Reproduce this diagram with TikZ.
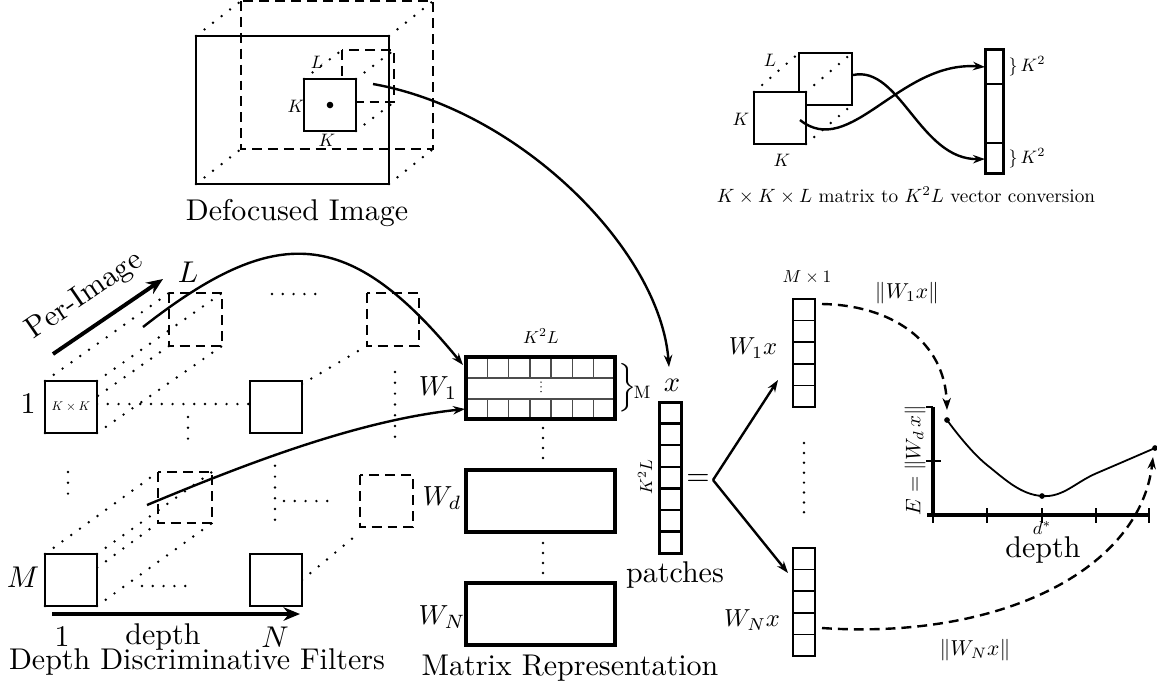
\RequirePackage{fix-cm}
\documentclass[tikz,border=0pt]{standalone}
\usetikzlibrary{arrows.meta}
\newcommand{\fsz}[1]{\fontsize{#1}{#1}\selectfont}
\begin{document}
\begin{tikzpicture}[x=0.33333pt,y=-0.33333pt,line width=0.8pt,
  dotl/.style={line width=0.9pt,line cap=round,dash pattern=on 0pt off 3.6pt},
  dsh/.style={dash pattern=on 3.3pt off 2pt},
  thk/.style={line width=1.3pt},
  mbox/.style={line width=1.1pt},
  cellln/.style={line width=0.45pt,black!70},
  vcell/.style={line width=0.5pt},
  arr/.style={-{Stealth[length=4pt,width=2.8pt]}},
  bigarr/.style={-{Stealth[length=5.5pt,width=4.5pt]}},
  tA/.style={inner sep=0pt,font=\fsz{10}},
  sc/.style={inner sep=0pt,font=\fsz{10},scale=#1}]
\useasboundingbox (0,0) rectangle (1157,689);

% ---------------- Defocused image ----------------
\draw[dsh] (241,1) rectangle (433,149);
\draw[dotl] (196,36) -- (241,1) (389,36) -- (433,1) (196,184) -- (241,149) (389,184) -- (433,149);
\draw (196,36) rectangle (389,184);
\draw[dsh] (342,50) rectangle (394,102);
\draw[dotl] (304,79) -- (342,50) (356,79) -- (394,50) (356,131) -- (394,102);
\draw[fill=white] (304,79) rectangle (356,131);
\fill (330,105) circle (1.1pt);
\node[sc=0.6] (dL) at (317,62) {$L$};
\node[sc=0.6] (dK1) at (296,106) {$K$};
\node[sc=0.6] (dK2) at (327,140) {$K$};
\node[tA] (dcap) at (297,213) {Defocused Image};
\coordinate (imgout) at (373,84);

% ---------------- Conversion inset ----------------
\draw (799,53) rectangle (852,105);
\draw[dotl] (754,92) -- (799,53) (806,92) -- (852,53) (806,144) -- (852,105);
\draw[fill=white] (754,92) rectangle (806,144);
\draw (985,84) -- (1003,84) (985,143) -- (1003,143);
\draw[line width=1pt] (985,49) rectangle (1003,173);
\node[sc=0.6] (cL) at (770,60) {$L$};
\node[sc=0.6] (cK1) at (741,119) {$K$};
\node[sc=0.6] (cK2) at (782,160) {$K$};
\node[sc=0.6,anchor=west] (cb1) at (1008,66) {$\}\,K^2$};
\node[sc=0.6,anchor=west] (cb2) at (1008,158) {$\}\,K^2$};
\node[sc=0.64] (ccap) at (906,195) {$K\times K\times L$ matrix to $K^2L$ vector conversion};
\coordinate (cs1) at (853,75);
\coordinate (ce1) at (985,159);
\coordinate (cs2) at (800,120);
\coordinate (ce2) at (985,67);
\draw[arr] (cs1) .. controls (900,65) and (920,160) .. (ce1);
\draw[arr] (cs2) .. controls (850,160) and (900,60) .. (ce2);

% ---------------- Depth discriminative filters ----------------
\draw[dsh] (169,293) rectangle (222,346);
\draw[dsh] (367,293) rectangle (419,346);
\draw[dsh] (158,472) rectangle (212,523);
\draw[dsh] (360,475) rectangle (413,527);
\draw[dotl] (45,381) -- (169,293);
\draw[dotl] (97,381) -- (222,293);
\draw[dotl] (45,433) -- (169,346);
\draw[dotl] (97,433) -- (222,346);
\draw[dotl] (302,384) -- (365,347);
\draw[dotl] (45,554) -- (158,472);
\draw[dotl] (97,554) -- (212,472);
\draw[dotl] (45,606) -- (158,523);
\draw[dotl] (97,606) -- (212,523);
\draw[dotl] (302,580) -- (359,533);
\draw[dotl] (97,404) -- (250,404);
\draw[dotl] (272,294) -- (323,294);
\draw[dotl] (142,586) -- (195,586);
\draw[dotl] (284,501) -- (337,501);
\draw[dotl] (68,472) -- (68,502);
\draw[dotl] (188,417) -- (188,447);
\draw[dotl] (275,455) -- (275,530);
\draw[dotl] (395,372) -- (395,447);
\draw[fill=white] (45,381) rectangle (97,433);
\draw[fill=white] (250,381) rectangle (302,433);
\draw[fill=white] (45,554) rectangle (97,606);
\draw[fill=white] (250,554) rectangle (302,606);
\node[sc=0.42] (kk) at (71,407) {$K\times K$};
\node[tA] (r1) at (28,404) {$1$};
\node[tA] (rM) at (23,577) {$M$};
\node[tA] (lL) at (188,272) {$L$};
\coordinate (pa1) at (53,354);
\coordinate (pa2) at (163,279);
\draw[thk,bigarr] (pa1) -- (pa2);
\node[tA,rotate=34.5] (pimg) at (85,296) {Per-Image};
\coordinate (da1) at (52,614);
\coordinate (da2) at (300,614);
\draw[thk,bigarr] (da1) -- (da2);
\node[tA] (c1) at (62,637) {$1$};
\node[tA] (cdep) at (163,637) {depth};
\node[tA] (cN) at (275,637) {$N$};
\node[tA] (fcap) at (197,662) {Depth Discriminative Filters};
\coordinate (f1out) at (143,327);
\coordinate (fMout) at (147,505);

% ---------------- Matrix representation ----------------
\foreach \i in {1,...,6} {
  \draw[cellln] ({466+\i*21.29},357) -- ({466+\i*21.29},378) ({466+\i*21.29},399) -- ({466+\i*21.29},419);
}
\draw[cellln] (466,378) -- (615,378) (466,399) -- (615,399);
\draw[line width=0.5pt,line cap=round,dash pattern=on 0pt off 1.6pt] (541,382) -- (541,396);
\draw[mbox] (466,357) rectangle (615,419);
\draw[mbox] (466,470) rectangle (615,532);
\draw[mbox] (466,583) rectangle (615,645);
\draw[dotl,dash pattern=on 0pt off 3.33pt] (543,428) -- (543,459);
\draw[dotl,dash pattern=on 0pt off 3.33pt] (543,543) -- (543,574);
\node[sc=0.58] (mK) at (541,336) {$K^2L$};
\node[sc=0.92] (mW1) at (438,388) {$W_1$};
\node[sc=0.92] (mWd) at (442,498) {$W_d$};
\node[sc=0.92] (mWN) at (442,617) {$W_N$};
\node[sc=0.9] (mbr) at (627,388) {$\Big\}$};
\node[sc=0.6] (mM) at (642,392) {M};
\node[tA] (mcap) at (570,668) {Matrix Representation};
\coordinate (w1in1) at (463,365);
\coordinate (w1in2) at (465,409);
\draw[arr] (f1out) .. controls (276,223) and (349,226) .. (w1in1);
\draw[arr] (fMout) .. controls (250,462) and (360,420) .. (w1in2);

% ---------------- patches vector ----------------
\foreach \i in {1,...,6} { \draw (659,{402+\i*21.6}) -- (681,{402+\i*21.6}); }
\draw[line width=1pt] (659,402) rectangle (681,553);
\node[sc=0.95] (xl) at (672,385) {$x$};
\node[sc=0.58,rotate=90] (xK) at (645,477) {$K^2L$};
\node[tA] (eq) at (698,480) {$=$};
\node[tA] (pcap) at (675,575) {patches};
\coordinate (xin) at (669,367);
\draw[arr] (imgout) .. controls (520,110) and (660,250) .. (xin);
\coordinate (apex) at (713,480);
\coordinate (v1in) at (778,380);
\coordinate (vNin) at (788,573);
\draw[arr] (apex) -- (v1in);
\draw[arr] (apex) -- (vNin);

% ---------------- W x vectors ----------------
\foreach \i in {1,...,4} { \draw[vcell] (793,{299+\i*21.6}) -- (815,{299+\i*21.6}); }
\draw[vcell] (793,299) rectangle (815,407);
\foreach \i in {1,...,4} { \draw[vcell] (793,{548+\i*21.6}) -- (815,{548+\i*21.6}); }
\draw[vcell] (793,548) rectangle (815,656);
\draw[dotl,dash pattern=on 0pt off 3.3pt] (804,443) -- (804,513);
\node[sc=0.58] (vM) at (807,277) {$M\times 1$};
\node[sc=0.82] (vW1) at (753,348) {$W_1x$};
\node[sc=0.82] (vWN) at (752,620) {$W_Nx$};
\node[sc=0.72] (n1) at (907,293) {$\|W_1x\|$};
\node[sc=0.72] (nN) at (975,650) {$\|W_Nx\|$};

% ---------------- graph ----------------
\draw[thk] (933,407) -- (933,515);
\draw[thk] (927,515) -- (1149,515);
\draw[line width=0.6pt] (926,407) -- (933,407) (926,461) -- (941,461);
\draw[line width=0.6pt] (933,515) -- (933,523);
\foreach \xx in {987,1042,1096,1149} { \draw[line width=0.6pt] (\xx,508) -- (\xx,523); }
\draw[line width=0.6pt] plot[smooth,tension=0.7] coordinates {(947,420) (987,465) (1042,496) (1097,473) (1155,448)};
\fill (947,420) circle (0.95pt);
\fill (1042,496) circle (0.95pt);
\fill (1155,448) circle (0.95pt);
\node[sc=0.7,rotate=90] (gE) at (915,460) {$E=\|W_d\,x\|$};
\node[sc=0.62] (gd) at (1042,528) {$d^*$};
\node[tA] (gdep) at (1043,550) {depth};
\coordinate (v1out) at (822,304);
\coordinate (gin1) at (947,410);
\coordinate (vNout) at (822,628);
\coordinate (gin2) at (1153,457);
\draw[dsh,arr] (v1out) .. controls (890,305) and (945,340) .. (gin1);
\draw[dsh,arr] (vNout) .. controls (1000,640) and (1140,570) .. (gin2);
\end{tikzpicture}
\end{document}
